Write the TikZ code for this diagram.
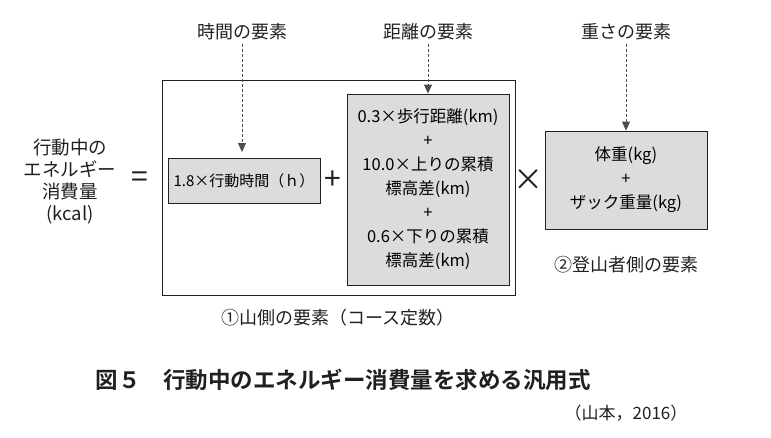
\documentclass[tikz,border=0pt]{standalone}
\usepackage{fontspec}
\setmainfont{Noto Sans CJK JP}[BoldFont={Noto Sans CJK JP Bold}]
\usetikzlibrary{positioning,arrows.meta}
\definecolor{boxgray}{HTML}{DCDCDC}
\definecolor{ink}{HTML}{231F20}
\tikzset{
  termbox/.style={draw=ink,fill=boxgray,thick,align=center,inner sep=0pt,font=\fontsize{16.5}{24}\selectfont},
  tag/.style={font=\fontsize{18}{22}\selectfont,text=ink},
  pointer/.style={draw=ink!80,densely dashed,thick,-{Triangle[length=9pt,width=8pt]}},
  op/.style={font=\fontsize{30}{30}\selectfont,text=ink}
}
\begin{document}
\begin{tikzpicture}[x=1pt,y=-1pt,>=Stealth]
\useasboundingbox (0,0) rectangle (771,437);

%%%% outer box (mountain side)
\draw[ink,thick] (162,80) rectangle (515,295);

%%%% term boxes
\node[termbox,minimum width=152,minimum height=45,font=\fontsize{15}{20}\selectfont] (time) at (244,180.5) {1.8×行動時間（ｈ）};
\node[termbox,minimum width=162,minimum height=191] (dist) at (428,189.5)
  {0.3×歩行距離(km)\\+\\10.0×上りの累積\\標高差(km)\\+\\0.6×下りの累積\\標高差(km)};
\node[termbox,minimum width=162,minimum height=98] (load) at (626,180) {体重(kg)\\+\\ザック重量(kg)};

%%%% left side
\node[tag,align=center,font=\fontsize{18.5}{22}\selectfont] (energy) at (70,182) {行動中の\\エネルギー\\消費量\\(kcal)};
\node[op] (eq) at (140,180) {=};
\node[op] (plus) at (333,180) {+};
\node[op] (times) at (528,180) {×};

%%%% element labels
\node[tag] (tlab) at (242,32) {時間の要素};
\node[tag] (dlab) at (428,32) {距離の要素};
\node[tag] (wlab) at (626,32) {重さの要素};
\draw[pointer] (tlab.south) -- (242,152);
\draw[pointer] (dlab.south) -- (dist.north);
\draw[pointer] (wlab.south) -- (load.north);

\node[tag] (mount) at (338,318) {①山側の要素（コース定数）};
\node[tag] (climber) at (626,265) {②登山者側の要素};

%%%% caption
\node[tag,anchor=west,font=\fontsize{22.5}{26}\selectfont\bfseries] (cap) at (92,380) {図５\quad 行動中のエネルギー消費量を求める汎用式};
\node[tag,font=\fontsize{17}{20}\selectfont] (src) at (626,413) {（山本，2016）};
\end{tikzpicture}
\end{document}
